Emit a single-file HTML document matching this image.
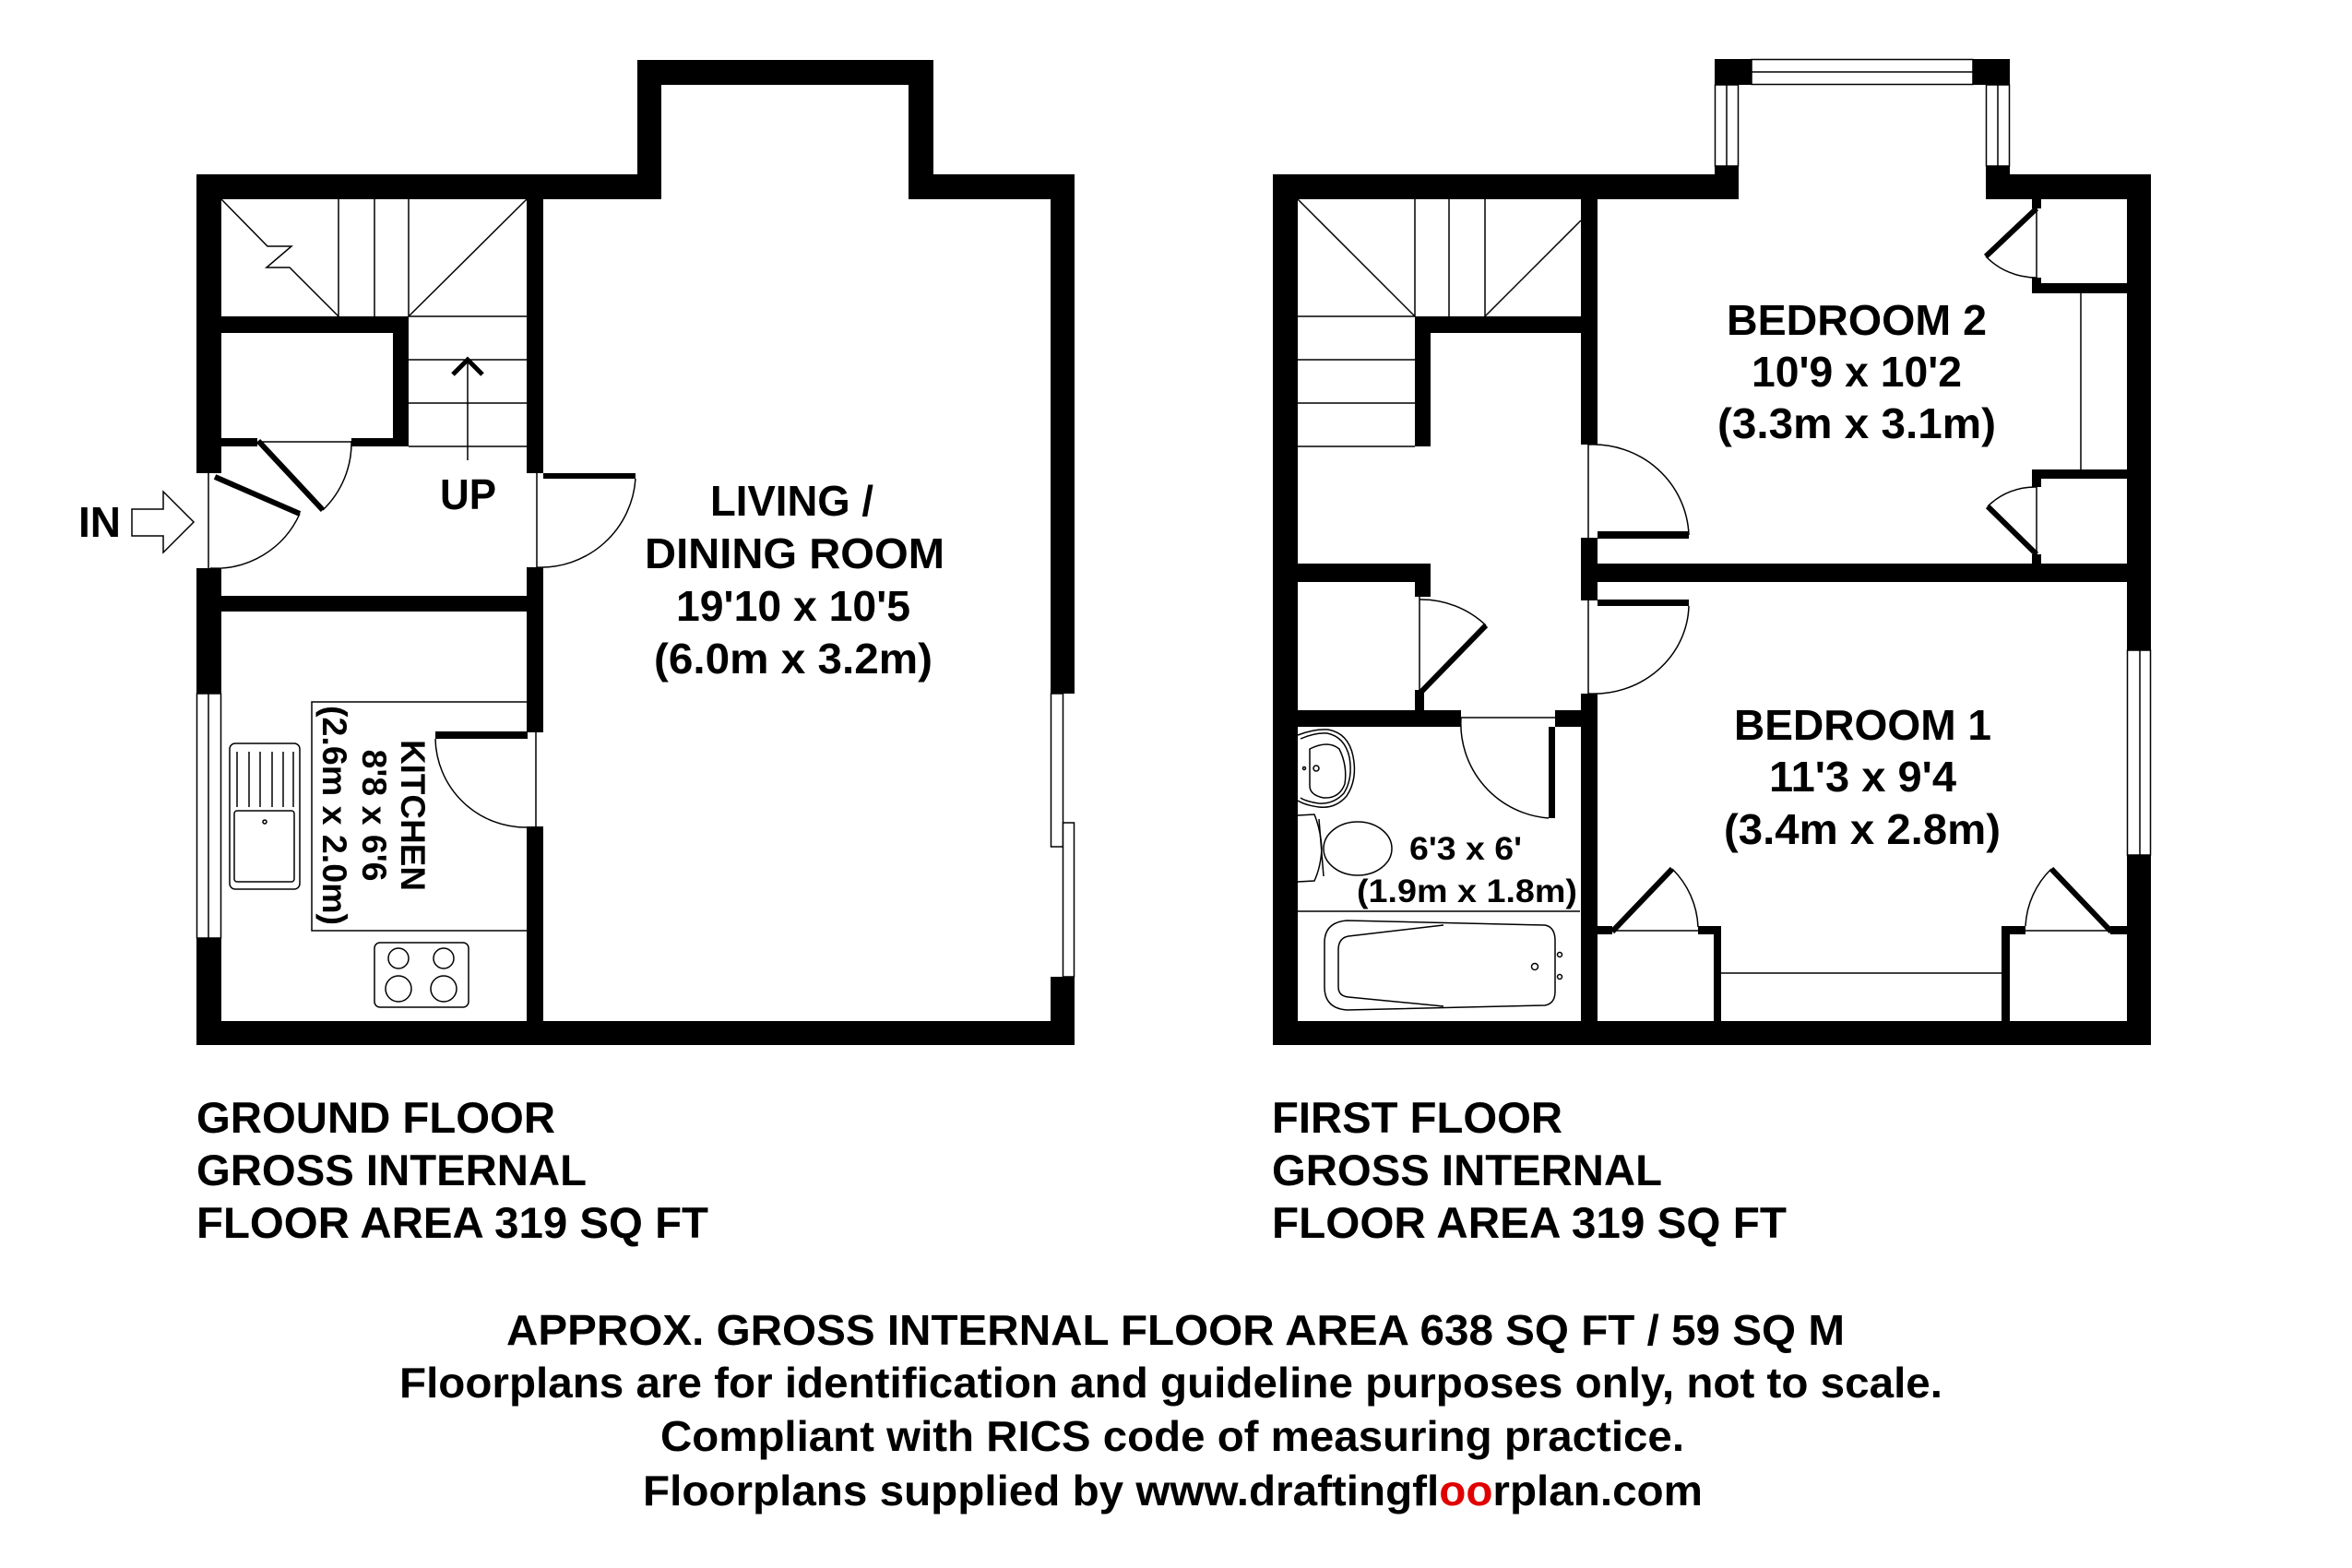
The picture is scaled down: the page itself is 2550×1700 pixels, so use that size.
<!DOCTYPE html>
<html><head><meta charset="utf-8"><style>
html,body{margin:0;padding:0;background:#fff;}
svg{display:block;}
text{font-family:"Liberation Sans",Arial,sans-serif;font-weight:bold;fill:#000;}
</style></head><body>
<svg width="2550" height="1700" viewBox="0 0 2550 1700" xmlns="http://www.w3.org/2000/svg">
<rect x="0" y="0" width="2550" height="1700" fill="#fff"/>

<!-- ============ GROUND FLOOR ============ -->
<g fill="#000">
<rect x="213" y="189" width="27" height="324"/>
<rect x="213" y="616" width="27" height="136"/>
<rect x="213" y="1017" width="27" height="116"/>
<rect x="213" y="189" width="504" height="27"/>
<rect x="691" y="65" width="26" height="151"/>
<rect x="691" y="65" width="321" height="27"/>
<rect x="985" y="65" width="27" height="151"/>
<rect x="985" y="189" width="180" height="27"/>
<rect x="1139" y="189" width="26" height="563"/>
<rect x="1139" y="1059" width="26" height="74"/>
<rect x="213" y="1107" width="952" height="26"/>
<rect x="571" y="216" width="18" height="297"/>
<rect x="571" y="615" width="18" height="179"/>
<rect x="571" y="896" width="18" height="211"/>
<rect x="240" y="646" width="331" height="17"/>
<rect x="240" y="343" width="203" height="18"/>
<rect x="426" y="343" width="17" height="141"/>
<rect x="240" y="475" width="39" height="9"/>
<rect x="381" y="475" width="62" height="9"/>
<!-- door leaves -->
<rect x="589" y="513" width="100" height="6"/>
<rect x="472" y="793" width="100" height="8"/>
</g>
<g fill="none" stroke="#000" stroke-width="1.5">
<!-- kitchen window -->
<rect x="213.5" y="752" width="26" height="265" fill="#fff"/>
<line x1="226" y1="752" x2="226" y2="1017"/>
<!-- living window panes -->
<rect x="1139.5" y="752" width="13" height="166" fill="#fff"/>
<rect x="1152.5" y="892" width="12" height="167" fill="#fff"/>
<!-- stairs -->
<polyline points="240,216 290,267 316,267 289,290 314,290 367,343"/>
<line x1="367" y1="216" x2="367" y2="343"/>
<line x1="406" y1="216" x2="406" y2="343"/>
<line x1="443" y1="216" x2="443" y2="343"/>
<line x1="443" y1="343" x2="571" y2="216"/>
<line x1="443" y1="343" x2="571" y2="343"/>
<line x1="443" y1="390" x2="571" y2="390"/>
<line x1="443" y1="437" x2="571" y2="437"/>
<line x1="443" y1="484" x2="571" y2="484"/>
<line x1="507" y1="389" x2="507" y2="499"/>
<!-- doors arcs / jambs -->
<line x1="226" y1="513" x2="226" y2="616"/>
<path d="M325,557 A100,100 0 0,1 228,616"/>
<line x1="280" y1="479" x2="381" y2="479"/>
<path d="M350,553 A101,101 0 0,0 381,478"/>
<line x1="582" y1="513" x2="582" y2="615"/>
<path d="M689,519 A103,103 0 0,1 582,615"/>
<line x1="581" y1="793" x2="581" y2="897"/>
<path d="M472,801 A98,98 0 0,0 571,897"/>
<!-- kitchen counter box -->
<polyline points="571,761 338,761 338,1009 571,1009"/>
<!-- sink -->
<rect x="249" y="806" width="76" height="158" rx="6"/>
<rect x="254" y="879" width="65" height="77" rx="3"/>
<line x1="257" y1="815" x2="257" y2="875"/>
<line x1="270" y1="815" x2="270" y2="875"/>
<line x1="282" y1="815" x2="282" y2="875"/>
<line x1="295" y1="815" x2="295" y2="875"/>
<line x1="307" y1="815" x2="307" y2="875"/>
<line x1="318" y1="815" x2="318" y2="875"/>
<circle cx="287" cy="891" r="2"/>
<!-- hob -->
<rect x="406" y="1022" width="102" height="70" rx="6"/>
<circle cx="432" cy="1039" r="11"/>
<circle cx="481" cy="1039" r="11"/>
<circle cx="432" cy="1072" r="14"/>
<circle cx="481" cy="1072" r="14"/>
<!-- IN arrow -->
<polygon points="143,552 177,552 177,533 210,566 177,599 177,581 143,581"/>
</g>
<g fill="none" stroke="#000" stroke-width="6">
<line x1="233" y1="517" x2="325" y2="557"/>
<line x1="280" y1="478" x2="350" y2="553"/>
<polyline points="491,406 507,390 523,406" stroke-width="5"/>
</g>

<!-- ============ FIRST FLOOR ============ -->
<g fill="#000">
<rect x="1380" y="189" width="27" height="944"/>
<rect x="1380" y="189" width="505" height="27"/>
<rect x="1859" y="180" width="26" height="36"/>
<rect x="1859" y="64" width="40" height="28"/>
<rect x="2139" y="64" width="40" height="28"/>
<rect x="2153" y="180" width="26" height="36"/>
<rect x="2153" y="189" width="179" height="27"/>
<rect x="2306" y="189" width="26" height="516"/>
<rect x="2306" y="927" width="26" height="206"/>
<rect x="1380" y="1107" width="952" height="26"/>
<rect x="1714" y="216" width="18" height="266"/>
<rect x="1714" y="583" width="18" height="68"/>
<rect x="1714" y="752" width="18" height="355"/>
<rect x="1714" y="611" width="618" height="20"/>
<rect x="1534" y="343" width="180" height="18"/>
<rect x="1534" y="343" width="17" height="141"/>
<rect x="1407" y="611" width="144" height="20"/>
<rect x="1534" y="611" width="17" height="36"/>
<rect x="1534" y="748" width="10" height="39"/>
<rect x="1407" y="770" width="177" height="18"/>
<rect x="1686" y="770" width="28" height="18"/>
<!-- bedroom 2 closets -->
<rect x="2203" y="216" width="10" height="10"/>
<rect x="2203" y="301" width="10" height="17"/>
<rect x="2203" y="307" width="104" height="11"/>
<rect x="2203" y="509" width="104" height="10"/>
<rect x="2203" y="509" width="10" height="19"/>
<rect x="2203" y="601" width="10" height="11"/>
<!-- bedroom 1 closets -->
<rect x="1732" y="1004" width="16" height="9"/>
<rect x="1841" y="1004" width="25" height="9"/>
<rect x="1858" y="1004" width="8" height="103"/>
<rect x="2170" y="1004" width="9" height="103"/>
<rect x="2170" y="1004" width="26" height="9"/>
<rect x="2288" y="1004" width="18" height="9"/>
<!-- door leaves -->
<rect x="1732" y="576" width="99" height="8"/>
<rect x="1732" y="650" width="99" height="7"/>
<rect x="1679" y="788" width="7" height="99"/>
</g>
<g fill="none" stroke="#000" stroke-width="1.5">
<!-- bay windows -->
<rect x="1899" y="64.5" width="240" height="27" fill="#fff"/>
<line x1="1899" y1="78" x2="2139" y2="78"/>
<rect x="1859.5" y="92" width="25" height="88" fill="#fff"/>
<line x1="1872" y1="92" x2="1872" y2="180"/>
<rect x="2153.5" y="92" width="25" height="88" fill="#fff"/>
<line x1="2166" y1="92" x2="2166" y2="180"/>
<!-- bedroom 1 window -->
<rect x="2306.5" y="705" width="25" height="222" fill="#fff"/>
<line x1="2320" y1="705" x2="2320" y2="927"/>
<!-- stairs -->
<line x1="1407" y1="216" x2="1534" y2="343"/>
<line x1="1534" y1="216" x2="1534" y2="343"/>
<line x1="1571" y1="216" x2="1571" y2="343"/>
<line x1="1610" y1="216" x2="1610" y2="343"/>
<line x1="1610" y1="343" x2="1714" y2="239"/>
<line x1="1407" y1="343" x2="1534" y2="343"/>
<line x1="1407" y1="390" x2="1534" y2="390"/>
<line x1="1407" y1="437" x2="1534" y2="437"/>
<line x1="1407" y1="484" x2="1534" y2="484"/>
<!-- door arcs / jambs -->
<line x1="1722" y1="482" x2="1722" y2="583"/>
<path d="M1831,580 A104,102 0 0,0 1722,482"/>
<line x1="1722" y1="651" x2="1722" y2="752"/>
<path d="M1831,657 A103,98 0 0,1 1722,752"/>
<line x1="1539" y1="647" x2="1539" y2="752"/>
<path d="M1611,678 A102,102 0 0,0 1539,650"/>
<line x1="1584" y1="778" x2="1686" y2="778"/>
<path d="M1584,778 A103,103 0 0,0 1679,887"/>
<line x1="2208" y1="226" x2="2208" y2="301"/>
<path d="M2153,278 A76,76 0 0,0 2208,301"/>
<line x1="2208" y1="528" x2="2208" y2="601"/>
<path d="M2208,528 A73,73 0 0,0 2155,549"/>
<line x1="2256" y1="318" x2="2256" y2="509"/>
<line x1="1748" y1="1009" x2="1841" y2="1009"/>
<path d="M1813,942 A94,94 0 0,1 1841,1005"/>
<line x1="2196" y1="1009" x2="2288" y2="1009"/>
<path d="M2196,1004 A93,93 0 0,1 2224,942"/>
<line x1="1866" y1="1055" x2="2170" y2="1055"/>
<!-- bathroom fixtures -->
<line x1="1407" y1="988" x2="1713" y2="988"/>
<path d="M1460,998 L1675,1003 Q1686,1005 1686,1020 L1686,1075 Q1686,1088 1675,1090 L1460,1095 Q1436,1093 1436,1070 L1436,1022 Q1436,1000 1460,998 Z"/>
<path d="M1565,1003 L1462,1015 Q1451,1017 1451,1030 L1451,1070 Q1451,1080 1462,1081 L1565,1091"/>
<circle cx="1664" cy="1048" r="3.5"/>
<circle cx="1691" cy="1035" r="2.5"/>
<circle cx="1691" cy="1059" r="2.5"/>
<path d="M1407,797 Q1425,790 1440,791 Q1462,795 1467,820 Q1472,845 1460,863 Q1448,877 1430,875 Q1415,873 1407,868"/>
<path d="M1410,801 Q1426,794 1439,795 Q1458,799 1463,821 Q1467,844 1457,860 Q1446,872 1430,871 Q1416,869 1410,865"/>
<path d="M1420,812 Q1440,802 1452,812 Q1461,830 1458,850 Q1452,866 1435,865 Q1420,862 1420,852 Z"/>
<circle cx="1427" cy="833" r="3"/>
<circle cx="1414" cy="833" r="1.5"/>
<path d="M1407,884 L1425,883 Q1432,900 1433,920 Q1432,940 1425,955 L1407,956"/>
<line x1="1430" y1="888" x2="1435" y2="950"/>
<ellipse cx="1472" cy="920" rx="37" ry="29"/>
</g>
<g fill="none" stroke="#000" stroke-width="6">
<line x1="1539" y1="752" x2="1611" y2="678"/>
<line x1="2208" y1="226" x2="2153" y2="278"/>
<line x1="2155" y1="549" x2="2208" y2="601"/>
<line x1="1748" y1="1010" x2="1813" y2="942"/>
<line x1="2289" y1="1010" x2="2224" y2="942"/>
</g>

<!-- ============ TEXT ============ -->
<g font-size="46">
<text x="85" y="582">IN</text>
<text x="477" y="552" textLength="61" lengthAdjust="spacingAndGlyphs">UP</text>

<text x="770" y="559" textLength="177" lengthAdjust="spacingAndGlyphs">LIVING /</text>
<text x="699" y="616" textLength="325" lengthAdjust="spacingAndGlyphs">DINING ROOM</text>
<text x="733" y="673" textLength="254" lengthAdjust="spacingAndGlyphs">19'10 x 10'5</text>
<text x="709" y="730" textLength="302" lengthAdjust="spacingAndGlyphs">(6.0m x 3.2m)</text>

<text x="1872" y="363" textLength="282" lengthAdjust="spacingAndGlyphs">BEDROOM 2</text>
<text x="1899" y="419" textLength="228" lengthAdjust="spacingAndGlyphs">10'9 x 10'2</text>
<text x="1862" y="475" textLength="302" lengthAdjust="spacingAndGlyphs">(3.3m x 3.1m)</text>

<text x="1880" y="802" textLength="279" lengthAdjust="spacingAndGlyphs">BEDROOM 1</text>
<text x="1918" y="858" textLength="203" lengthAdjust="spacingAndGlyphs">11'3 x 9'4</text>
<text x="1869" y="915" textLength="300" lengthAdjust="spacingAndGlyphs">(3.4m x 2.8m)</text>
</g>
<g font-size="35">
<text x="1528" y="932" textLength="122" lengthAdjust="spacingAndGlyphs">6'3 x 6'</text>
<text x="1471" y="978" textLength="239" lengthAdjust="spacingAndGlyphs">(1.9m x 1.8m)</text>
</g>
<g font-size="37">
<text transform="translate(435,884) rotate(90)" text-anchor="middle" textLength="164" lengthAdjust="spacingAndGlyphs">KITCHEN</text>
<text transform="translate(393,884) rotate(90)" text-anchor="middle" textLength="143" lengthAdjust="spacingAndGlyphs">8'8 x 6'6</text>
<text transform="translate(350,884) rotate(90)" text-anchor="middle" textLength="238" lengthAdjust="spacingAndGlyphs">(2.6m x 2.0m)</text>
</g>
<g font-size="47">
<text x="213" y="1228" textLength="389" lengthAdjust="spacingAndGlyphs">GROUND FLOOR</text>
<text x="213" y="1285" textLength="423" lengthAdjust="spacingAndGlyphs">GROSS INTERNAL</text>
<text x="213" y="1342" textLength="555" lengthAdjust="spacingAndGlyphs">FLOOR AREA 319 SQ FT</text>
<text x="1379" y="1228" textLength="315" lengthAdjust="spacingAndGlyphs">FIRST FLOOR</text>
<text x="1379" y="1285" textLength="423" lengthAdjust="spacingAndGlyphs">GROSS INTERNAL</text>
<text x="1379" y="1342" textLength="558" lengthAdjust="spacingAndGlyphs">FLOOR AREA 319 SQ FT</text>
</g>
<g font-size="46">
<text x="549" y="1458" textLength="1451" lengthAdjust="spacingAndGlyphs">APPROX. GROSS INTERNAL FLOOR AREA 638 SQ FT / 59 SQ M</text>
<text x="433" y="1515" textLength="1673" lengthAdjust="spacingAndGlyphs">Floorplans are for identification and guideline purposes only, not to scale.</text>
<text x="716" y="1573" textLength="1110" lengthAdjust="spacingAndGlyphs">Compliant with RICS code of measuring practice.</text>
<text x="697" y="1632" textLength="1149" lengthAdjust="spacingAndGlyphs">Floorplans supplied by www.draftingfl<tspan fill="#e00000">oo</tspan>rplan.com</text>
</g>
</svg>
</body></html>
